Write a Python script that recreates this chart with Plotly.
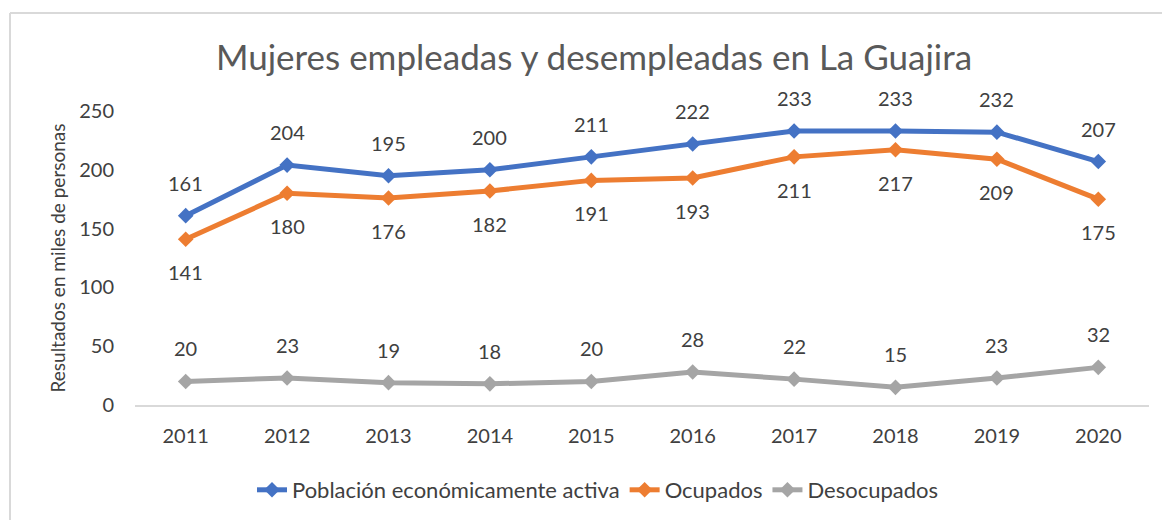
import plotly.graph_objects as go

# data
years = [2011, 2012, 2013, 2014, 2015, 2016, 2017, 2018, 2019, 2020]
year_labels = ['2011', '2012', '2013', '2014', '2015', '2016', '2017', '2018', '2019', '2020']
pea = [161, 204, 195, 200, 211, 222, 233, 233, 232, 207]
ocupados = [141, 180, 176, 182, 191, 193, 211, 217, 209, 175]
desocupados = [20, 23, 19, 18, 20, 28, 22, 15, 23, 32]

series = [
    ('Población económicamente activa', pea, '#4472c4', 1),
    ('Ocupados', ocupados, '#ed7d31', -1),
    ('Desocupados', desocupados, '#a5a5a5', 1),
]

# page has an 8px body margin, so the figure is 8px smaller and shifted
OFF = 8
W, H = 1170 - OFF, 520 - OFF
ml, mr, mt, mb = 135 - OFF, 21, 111 - OFF, 115
font_name = 'Lato, Open Sans, sans-serif'
txt = '#404040'

fig = go.Figure()
for name, vals, color, side in series:
    fig.add_trace(go.Scatter(
        x=years, y=vals, name=name, mode='lines+markers',
        line=dict(color=color, width=5),
        marker=dict(symbol='diamond', size=12, color=color),
    ))
    # data labels, above or below the point like Excel
    for x, v in zip(years, vals):
        fig.add_annotation(x=x, y=v, text=str(v), showarrow=False,
                           yshift=33 * side, font=dict(size=20, color=txt, family=font_name))

# reference pixel -> paper coords
pw, ph = W - ml - mr, H - mt - mb
def px_x(p):
    return (p - OFF - ml) / pw
def px_y(p):
    return (H - mb - (p - OFF)) / ph

# chart border (top and left edges visible in the reference)
fig.add_shape(type='line', xref='paper', yref='paper', x0=px_x(10), x1=px_x(1175),
              y0=px_y(13), y1=px_y(13), line=dict(color='#d9d9d9', width=2))
fig.add_shape(type='line', xref='paper', yref='paper', x0=px_x(10), x1=px_x(10),
              y0=px_y(13), y1=px_y(525), line=dict(color='#d9d9d9', width=2))

fig.update_layout(
    width=W, height=H,
    margin=dict(l=ml, r=mr, t=mt, b=mb, autoexpand=False),
    paper_bgcolor='white', plot_bgcolor='white',
    font=dict(family=font_name, color=txt),
    title=dict(text='Mujeres empleadas y desempleadas en La Guajira',
               x=(594 - OFF) / W, xanchor='center',
               y=1 - (58 - OFF) / H, yanchor='middle',
               font=dict(size=35, color='#595959', family=font_name)),
    xaxis=dict(range=[years[0] - 0.5, years[-1] + 0.5], tickvals=years, ticktext=year_labels,
               showgrid=False, zeroline=False, showline=True, linecolor='#d9d9d9',
               linewidth=1.5, ticks='', ticklabelstandoff=12,
               tickfont=dict(size=20, color=txt)),
    yaxis=dict(range=[0, 250], dtick=50, showgrid=False, zeroline=False, showline=False,
               tickfont=dict(size=20, color=txt), ticklabelstandoff=20,
               title=dict(text='Resultados en miles de personas', font=dict(size=19, color=txt),
                          standoff=8)),
    legend=dict(orientation='h', x=px_x(598), xanchor='center', y=px_y(490), yanchor='middle',
                font=dict(size=22, color=txt)),
    showlegend=True,
)

fig.write_html('out.html')
